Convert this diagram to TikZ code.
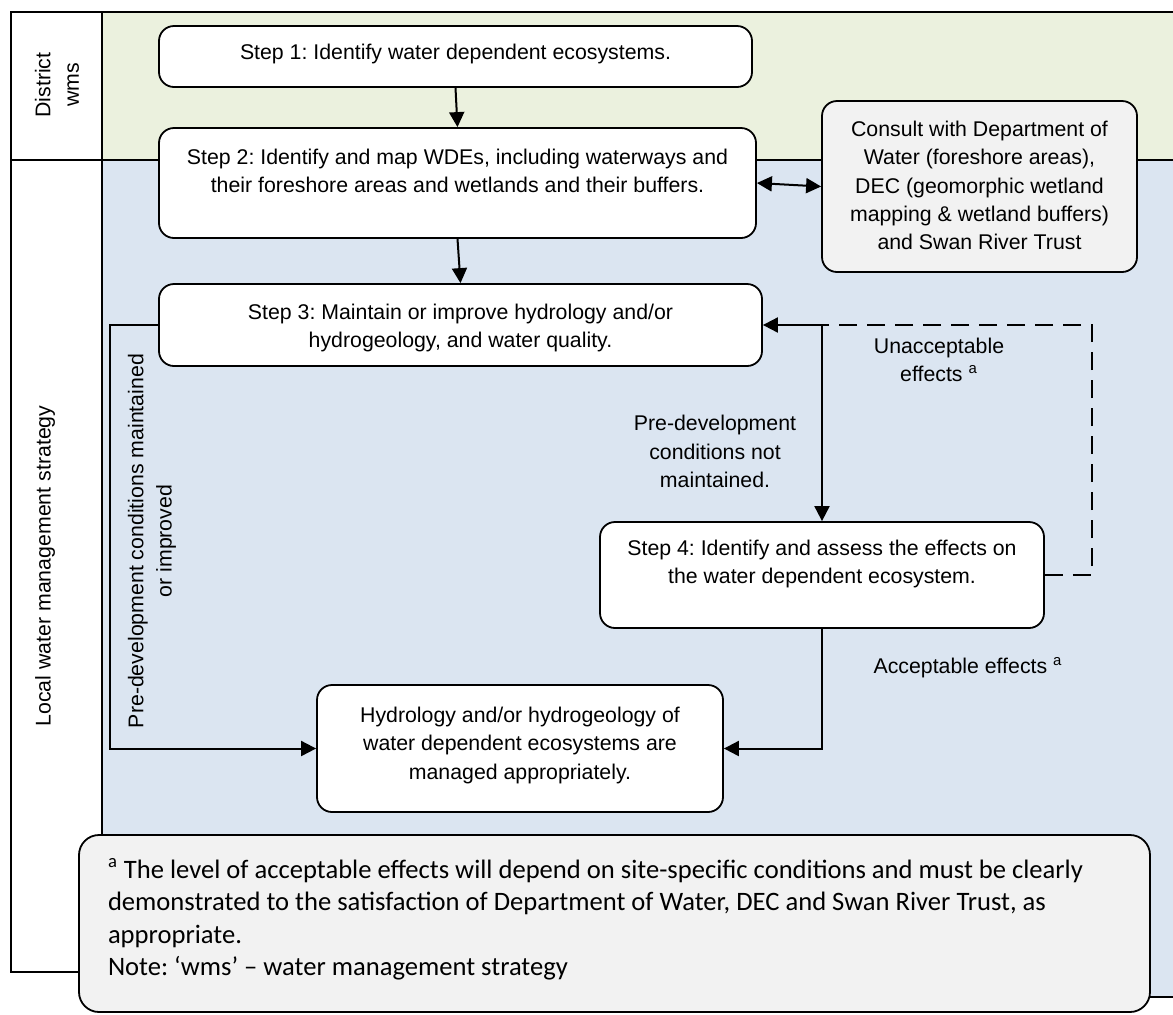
\documentclass[tikz,border=0pt]{standalone}
\usepackage{fontspec}
\setmainfont{Liberation Sans}
\newfontfamily\calfont{Carlito}
\usetikzlibrary{arrows.meta}
\definecolor{lanegreen}{HTML}{EBF1DE}
\definecolor{laneblue}{HTML}{DBE5F1}
\definecolor{notegrey}{HTML}{F2F2F2}
\frenchspacing
\newcommand\bxt[4]{\parbox[c][#1][t]{#2}{\centering\rule{0pt}{#3}#4\par}}
\begin{document}
\begin{tikzpicture}[x=0.5pt,y=-0.5pt,
  every node/.style={font=\fontsize{10.65pt}{14.15pt}\selectfont},
  stepbox/.style={draw, line width=0.9pt, rounded corners=7.5pt, fill=white, inner sep=0pt},
  greybox/.style={stepbox, fill=notegrey},
  lanetext/.style={rotate=90, align=center, inner sep=0pt},
  lbl/.style={align=center, inner sep=0pt},
  arr/.style={line width=1pt, -{Triangle[length=7.5pt,width=7.5pt]}},
  dblarr/.style={line width=1pt, {Triangle[length=7.5pt,width=7.5pt]}-{Triangle[length=7.5pt,width=7.5pt]}},
  dashline/.style={line width=1pt, dash pattern=on 9pt off 5pt},
  laneline/.style={line width=0.9pt}
]
\useasboundingbox (0,0) rectangle (1173,1014);
% lanes
\fill[lanegreen] (102,12) rectangle (1173,160);
\fill[laneblue] (102,160) rectangle (1173,997);
\draw[laneline] (1173,12) -- (11,12) -- (11,972) -- (102,972);
\draw[laneline] (102,12) -- (102,997) -- (1173,997);
\draw[laneline] (11,160) -- (1173,160);
\node[lanetext] (district) at (57,85) {District\\wms};
\node[lanetext] (local) at (45,566) {Local water management strategy};

% boxes
\node[stepbox] (s1) at (455.5,56.5) {\bxt{30.5pt}{296.5pt}{16.75pt}{Step 1: Identify water dependent ecosystems.}};
\node[stepbox] (s2) at (457.5,183) {\bxt{55pt}{298.5pt}{18pt}{Step 2: Identify and map WDEs, including waterways and\\their foreshore areas and wetlands and their buffers.}};
\node[greybox] (con) at (979.5,186.5) {\bxt{85.5pt}{157.5pt}{17.75pt}{Consult with Department of\\Water (foreshore areas),\\DEC (geomorphic wetland\\mapping \& wetland buffers)\\and Swan River Trust}};
\node[stepbox] (s3) at (460.5,325) {\bxt{41pt}{301.5pt}{17.5pt}{Step 3: Maintain or improve hydrology and/or\\hydrogeology, and water quality.}};
\node[stepbox] (s4) at (822,575) {\bxt{53pt}{222pt}{16.75pt}{Step 4: Identify and assess the effects on\\the water dependent ecosystem.}};
\node[stepbox] (hyd) at (520,748.5) {\bxt{63.5pt}{203pt}{18.75pt}{Hydrology and/or hydrogeology of\\water dependent ecosystems are\\managed appropriately.}};

% connectors
\coordinate (j) at (822,325);
\coordinate (dr) at (1092,575);
\draw[arr] (s1.south) -- (s2.north);
\draw[arr] (s2.south) -- (s3.north);
\draw[dblarr] (s2.east) -- (con.west);
\draw[arr] (s3.west) -- ++(-48,0) |- (hyd.west);
\draw[dashline] (s4.east) -- (dr) |- (j);
\draw[arr] (j) -- (s3.east);
\draw[arr] (j) -- (s4.north);
\draw[arr] (s4.south) |- (hyd.east);

% labels
\node[lbl] (unacc) at (939,360) {Unacceptable\\effects \textsuperscript{a}};
\node[lbl] (notm) at (715,451.5) {Pre-development\\conditions not\\maintained.};
\node[lbl] (acc) at (968,668) {Acceptable effects \textsuperscript{a}};
\node[lanetext] (maint) at (152,541) {Pre-development conditions maintained\\or improved};

% footnote
\node[greybox, rounded corners=10pt] (foot) at (614.5,923.5) {\parbox[c][88.5pt][t]{535.5pt}{\raggedright\leftskip=14.5pt\calfont\fontsize{13.3pt}{16.3pt}\selectfont\rule{0pt}{21.5pt}\textsuperscript{a} The level of acceptable effects will depend on site-specific conditions and must be clearly\\demonstrated to the satisfaction of Department of Water, DEC and Swan River Trust, as\\appropriate.\\Note: ‘wms’ – water management strategy\par}};
\end{tikzpicture}
\end{document}
